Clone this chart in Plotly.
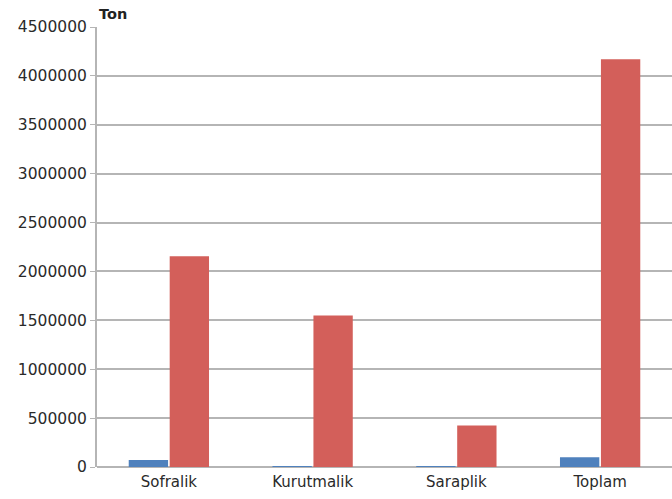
import plotly.graph_objects as go

categories = ["Sofralik", "Kurutmalik", "Saraplik", "Toplam"]
series_blue = [72000, 4000, 4000, 100000]
series_red = [2155000, 1550000, 425000, 4170000]
tick_vals = [0, 500000, 1000000, 1500000, 2000000, 2500000, 3000000, 3500000, 4000000, 4500000]
tick_text = [str(v) for v in tick_vals]

fig = go.Figure()
fig.add_trace(go.Bar(x=categories, y=series_blue, marker=dict(color="#4F81BD", line=dict(width=0)), name="A"))
fig.add_trace(go.Bar(x=categories, y=series_red, marker=dict(color="#D35F5A", line=dict(width=0)), name="B"))

fig.update_layout(
    width=672, height=499,
    margin=dict(l=97, r=0, t=27, b=32),
    paper_bgcolor="white", plot_bgcolor="white",
    barmode="group", bargap=0.43, bargroupgap=0.04,
    showlegend=False,
    font=dict(family="DejaVu Sans", color="#2a2a2a"),
    xaxis=dict(showgrid=False, showline=False, ticks="", tickfont=dict(size=15), ticklabelstandoff=4),
    yaxis=dict(range=[0, 4500000], tickvals=tick_vals, ticktext=tick_text,
               showgrid=True, gridcolor="#b5b5b5", gridwidth=1.5,
               showline=True, linecolor="#b5b5b5", linewidth=2,
               zeroline=True, zerolinecolor="#b5b5b5", zerolinewidth=1.5,
               ticks="outside", ticklen=5, tickcolor="#b5b5b5",
               tickfont=dict(size=15.5)),
    annotations=[dict(text="<b>Ton</b>", x=0, xref="paper", xanchor="left", y=1, yref="paper",
                      yanchor="bottom", yshift=3, showarrow=False, font=dict(size=14.5, color="#222222"))],
)

fig.write_html("out.html")
